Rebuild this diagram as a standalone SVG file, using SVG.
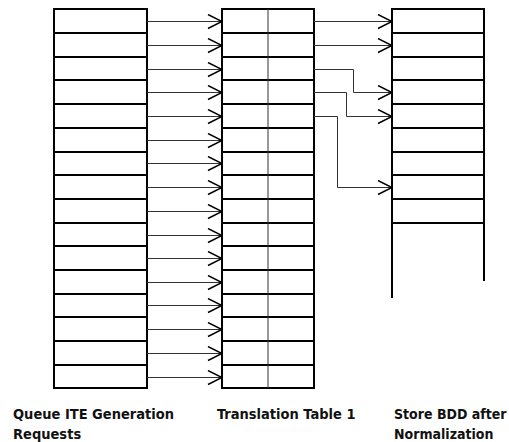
<svg xmlns="http://www.w3.org/2000/svg" width="509" height="442" viewBox="0 0 509 442">
<style>
.box{fill:none;stroke:#000;stroke-width:2}
.div{fill:none;stroke:#333;stroke-width:1}
.con{fill:none;stroke:#333;stroke-width:1;marker-end:url(#ah)}
.lbl{font-family:"DejaVu Sans Condensed","DejaVu Sans",sans-serif;font-stretch:condensed;font-weight:bold;font-size:14.5px;fill:#111}
.sm{font-size:14px}
</style>
<defs>
<marker id="ah" viewBox="-15 -8 16 16" refX="0" refY="0" markerWidth="16" markerHeight="16" markerUnits="userSpaceOnUse" orient="auto">
<path d="M-14,-7 L0,0 L-14,7" fill="none" stroke="#000" stroke-width="1.5"/>
</marker>
</defs>
<rect width="509" height="442" fill="#fff"/>
<g id="queue">
<rect class="box" x="54" y="9" width="93" height="379"/>
<path class="box" d="M54,33H147M54,57H147M54,80H147M54,104H147M54,128H147M54,152H147M54,175H147M54,199H147M54,223H147M54,246H147M54,270H147M54,294H147M54,317H147M54,341H147M54,365H147"/>
</g>
<g id="table">
<rect class="box" x="222" y="9" width="92" height="379"/>
<path class="box" d="M222,33H314M222,57H314M222,80H314M222,104H314M222,128H314M222,152H314M222,175H314M222,199H314M222,223H314M222,246H314M222,270H314M222,294H314M222,317H314M222,341H314M222,365H314"/>
<path class="div" d="M268,9V388"/>
</g>
<g id="store">
<path class="box" d="M392,298V9H484V281"/>
<path class="box" d="M392,33H484M392,57H484M392,80H484M392,104H484M392,128H484M392,152H484M392,175H484M392,199H484M392,223H484"/>
</g>
<g id="connectors">
<path class="con" d="M147,21.5H222"/>
<path class="con" d="M147,45.5H222"/>
<path class="con" d="M147,69.5H222"/>
<path class="con" d="M147,92.5H222"/>
<path class="con" d="M147,116.5H222"/>
<path class="con" d="M147,140.5H222"/>
<path class="con" d="M147,163.5H222"/>
<path class="con" d="M147,187.5H222"/>
<path class="con" d="M147,211.5H222"/>
<path class="con" d="M147,235.5H222"/>
<path class="con" d="M147,258.5H222"/>
<path class="con" d="M147,282.5H222"/>
<path class="con" d="M147,305.5H222"/>
<path class="con" d="M147,329.5H222"/>
<path class="con" d="M147,353.5H222"/>
<path class="con" d="M147,377.5H222"/>
<path class="con" d="M314,21.5H392"/>
<path class="con" d="M314,45.5H392"/>
<path class="con" d="M314,69.5H353.5V92.5H392"/>
<path class="con" d="M314,92.5H346.5V116.5H392"/>
<path class="con" d="M314,116.5H337.5V187.5H392"/>
</g>
<g id="labels">
<text class="lbl" x="13" y="419">Queue ITE Generation</text>
<text class="lbl" x="13" y="439">Requests</text>
<text class="lbl" x="217" y="419">Translation Table 1</text>
<text class="lbl sm" x="394" y="419">Store BDD after</text>
<text class="lbl sm" x="394" y="439">Normalization</text>
</g>
</svg>
